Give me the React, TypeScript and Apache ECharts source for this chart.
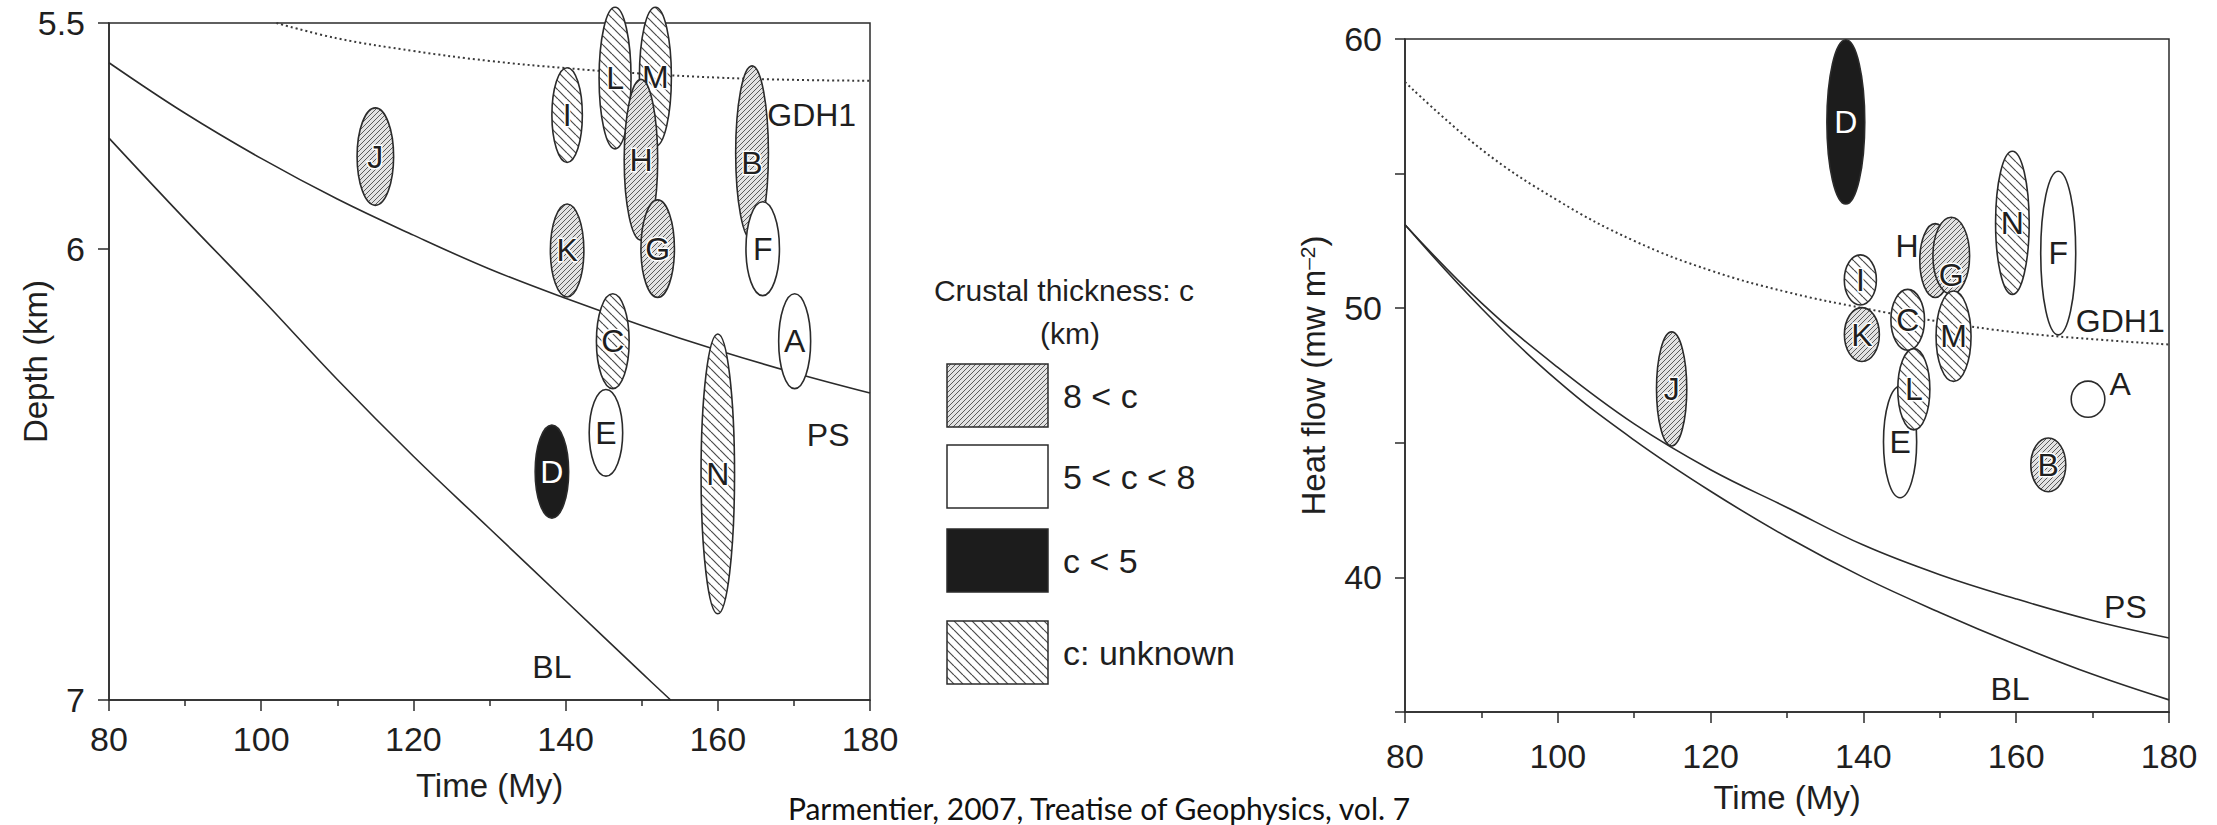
import React, { useEffect, useRef } from "react";
import * as echarts from "echarts";

// ---------- Depth panel (left): ellipse centres, half-extents and crust class ----------
const depthSites = ["J", "I", "K", "L", "M", "H", "G", "B", "F", "C", "A", "E", "D", "N"];
const depthAge = [115.0, 140.2, 140.2, 146.5, 151.8, 149.9, 152.1, 164.5, 165.9, 146.2, 170.1, 145.3, 138.2, 160.0];
const depthValue = [5.796, 5.704, 6.004, 5.622, 5.619, 5.803, 6.0, 5.788, 6.0, 6.205, 6.205, 6.408, 6.494, 6.499];
const depthAgeErr = [2.4, 2.0, 2.2, 2.1, 2.1, 2.2, 2.2, 2.15, 2.2, 2.15, 2.1, 2.2, 2.2, 2.2];
const depthErr = [0.108, 0.105, 0.103, 0.157, 0.154, 0.178, 0.108, 0.193, 0.104, 0.105, 0.105, 0.096, 0.103, 0.31];
const depthCrust = ["thick", "unknown", "thick", "unknown", "unknown", "thick", "thick", "thick", "mid", "unknown", "mid", "mid", "thin", "unknown"];

// ---------- Heat-flow panel (right) ----------
const heatSites = ["D", "N", "F", "I", "K", "C", "H", "G", "M", "E", "L", "A", "J", "B"];
const heatAge = [137.7, 159.5, 165.5, 139.6, 139.8, 145.8, 149.4, 151.5, 151.8, 144.8, 146.6, 169.4, 114.9, 164.2];
const heatValue = [56.92, 53.17, 52.05, 51.05, 49.02, 49.57, 51.77, 51.95, 48.96, 45.03, 46.99, 46.62, 47.0, 44.18];
const heatAgeErr = [2.48, 2.2, 2.29, 2.1, 2.29, 2.2, 2.02, 2.4, 2.29, 2.17, 2.1, 2.2, 1.98, 2.29];
const heatErr = [3.05, 2.66, 3.04, 0.93, 1.0, 1.13, 1.37, 1.43, 1.68, 2.07, 1.51, 0.67, 2.12, 1.0];
const heatCrust = ["thin", "unknown", "mid", "unknown", "thick", "unknown", "thick", "thick", "unknown", "mid", "unknown", "mid", "thick", "thick"];
// letters written away from their ellipse centre
const heatLetterAt: Record<string, [number, number]> = { H: [145.7, 52.3], G: [151.5, 51.25], A: [173.6, 47.2] };
const depthLetterAt: Record<string, [number, number]> = { B: [164.5, 5.81] };

// ---------- Cooling models ----------
const modelAge = [80, 90, 100, 110, 120, 130, 140, 150, 160, 170, 180];
const depthPS = [5.588, 5.7, 5.8, 5.89, 5.97, 6.045, 6.11, 6.17, 6.225, 6.275, 6.32];
const depthBLAge = [80, 90, 100, 110, 120, 130, 140, 150, 153.8];
const depthBL = [5.755, 5.935, 6.11, 6.29, 6.46, 6.62, 6.78, 6.94, 7.0];
const depthGDHAge = [102, 110, 120, 130, 140, 150, 160, 170, 180];
const depthGDH = [5.5, 5.534, 5.562, 5.584, 5.6, 5.612, 5.621, 5.626, 5.628];
const heatGDH = [58.4, 55.9, 54.0, 52.5, 51.4, 50.6, 50.0, 49.5, 49.1, 48.85, 48.65];
const heatPS = [53.1, 50.2, 47.8, 45.7, 44.0, 42.6, 41.2, 40.1, 39.2, 38.4, 37.75];
const heatBL = [53.1, 50.0, 47.3, 45.1, 43.2, 41.5, 40.0, 38.7, 37.5, 36.4, 35.45];

// curve captions
const depthCurveNames = ["GDH1", "PS", "BL"];
const depthCurveAge = [166.5, 174.5, 138.2];
const depthCurveValue = [5.704, 6.413, 6.926];
const heatCurveNames = ["GDH1", "PS", "BL"];
const heatCurveAge = [167.8, 174.3, 159.2];
const heatCurveValue = [49.54, 38.9, 35.85];

// legend
const legendTitle = ["Crustal thickness: c", "(km)"];
const legendClasses = ["thick", "mid", "thin", "unknown"];
const legendLabels = ["8 < c", "5 < c < 8", "c < 5", "c: unknown"];

const caption = "Parmentier, 2007, Treatise of Geophysics, vol. 7";

const FONT = '"Liberation Sans", Arial, Helvetica, sans-serif';
const INK = "#1f1f1f";
const LINE = "#2b2b2b";

function hatchFill(dir: number, s: number, bg: string, ink: string, w: number) {
  const seg = [-s, 0, s]
    .map((k) =>
      dir > 0
        ? `<line x1="${k}" y1="${s}" x2="${k + s}" y2="0"/>`
        : `<line x1="${k}" y1="0" x2="${k + s}" y2="${s}"/>`
    )
    .join("");
  const svg =
    `<svg xmlns="http://www.w3.org/2000/svg" width="${s}" height="${s}" viewBox="0 0 ${s} ${s}">` +
    `<rect width="${s}" height="${s}" fill="${bg}"/>` +
    `<g stroke="${ink}" stroke-width="${w}">${seg}</g></svg>`;
  return {
    image: "data:image/svg+xml;charset=utf-8," + encodeURIComponent(svg),
    repeat: "repeat",
    imageWidth: s,
    imageHeight: s,
  };
}

const FILLS: Record<string, any> = {
  thick: hatchFill(1, 5, "#e2e2e2", "#5a5a5a", 1),
  unknown: hatchFill(-1, 9, "#ffffff", "#4a4a4a", 1.2),
  mid: "#ffffff",
  thin: "#1c1c1c",
};

function ellipseSeries(
  idx: number,
  sites: string[],
  ages: number[],
  vals: number[],
  ageErr: number[],
  valErr: number[],
  crust: string[],
  letterAt: Record<string, [number, number]>
) {
  return {
    type: "custom",
    xAxisIndex: idx,
    yAxisIndex: idx,
    clip: false,
    silent: true,
    z: 5,
    data: sites.map((_, i) => [ages[i], vals[i], ageErr[i], valErr[i], i]),
    renderItem: (_p: any, api: any) => {
      const i = api.value(4);
      const c = api.coord([api.value(0), api.value(1)]);
      const sz = api.size([api.value(2), api.value(3)]);
      const at = letterAt[sites[i]];
      const lp = at ? api.coord(at) : c;
      const dark = crust[i] === "thin";
      const textStyle = {
        text: sites[i],
        font: `32px ${FONT}`,
        align: "center",
        verticalAlign: "middle",
        textAlign: "center",
        textVerticalAlign: "middle",
      };
      const children: any[] = [
        {
          type: "ellipse",
          shape: { cx: c[0], cy: c[1], rx: sz[0], ry: sz[1] },
          style: { fill: FILLS[crust[i]], stroke: LINE, lineWidth: 1.6 },
        },
      ];
      if (!dark) {
        children.push({
          type: "text",
          x: lp[0],
          y: lp[1],
          style: { ...textStyle, fill: "#ffffff", stroke: "#ffffff", lineWidth: 3 },
        });
      }
      children.push({
        type: "text",
        x: lp[0],
        y: lp[1],
        style: { ...textStyle, fill: dark ? "#ffffff" : INK },
      });
      return { type: "group", children };
    },
  };
}

function captionSeries(idx: number, names: string[], ages: number[], vals: number[]) {
  return {
    type: "custom",
    xAxisIndex: idx,
    yAxisIndex: idx,
    clip: false,
    silent: true,
    z: 6,
    data: names.map((_, i) => [ages[i], vals[i], i]),
    renderItem: (_p: any, api: any) => {
      const i = api.value(2);
      const c = api.coord([api.value(0), api.value(1)]);
      const al = names[i] === "GDH1" ? "left" : "center";
      return {
        type: "text",
        x: c[0],
        y: c[1],
        style: {
          text: names[i],
          font: `32px ${FONT}`,
          fill: INK,
          align: al,
          textAlign: al,
          verticalAlign: "middle",
          textVerticalAlign: "middle",
        },
      };
    },
  };
}

function curve(idx: number, xs: number[], ys: number[], dotted: boolean) {
  return {
    type: "line",
    xAxisIndex: idx,
    yAxisIndex: idx,
    data: xs.map((x, i) => [x, ys[i]]),
    smooth: 0.4,
    showSymbol: false,
    silent: true,
    z: 3,
    lineStyle: dotted
      ? { color: "#3a3a3a", width: 2, type: [2, 3] }
      : { color: LINE, width: 1.6 },
  };
}

const axisLine = { show: true, onZero: false, lineStyle: { color: LINE, width: 1.5 } };
const tickStyle = { color: LINE, width: 1.5 };

function timeAxis(idx: number, labelMargin: number) {
  return {
    type: "value",
    gridIndex: idx,
    min: 80,
    max: 180,
    interval: 20,
    name: "Time (My)",
    nameLocation: "middle",
    nameGap: 69,
    nameMoveOverlap: false,
    nameTextStyle: { fontFamily: FONT, fontSize: 33, color: INK },
    axisLine,
    axisTick: { show: true, length: 11, lineStyle: tickStyle },
    minorTick: { show: true, splitNumber: 2, length: 6, lineStyle: tickStyle },
    axisLabel: { margin: labelMargin, fontFamily: FONT, fontSize: 34, color: INK },
    splitLine: { show: false },
    minorSplitLine: { show: false },
  };
}

function buildOption() {
  const legendGraphics: any[] = [
    {
      type: "text",
      x: 1064,
      y: 290,
      style: { text: legendTitle[0], font: `30px ${FONT}`, fill: INK, align: "center", verticalAlign: "middle", textAlign: "center", textVerticalAlign: "middle" },
    },
    {
      type: "text",
      x: 1070,
      y: 333,
      style: { text: legendTitle[1], font: `30px ${FONT}`, fill: INK, align: "center", verticalAlign: "middle", textAlign: "center", textVerticalAlign: "middle" },
    },
  ];
  const boxTops = [364, 445, 529, 621];
  legendClasses.forEach((cls, i) => {
    legendGraphics.push({
      type: "rect",
      shape: { x: 947, y: boxTops[i], width: 101, height: 63 },
      style: { fill: FILLS[cls], stroke: LINE, lineWidth: 1.5 },
    });
    legendGraphics.push({
      type: "text",
      x: 1063,
      y: boxTops[i] + 32,
      style: { text: legendLabels[i], font: `34px ${FONT}`, fill: INK, align: "left", verticalAlign: "middle", textAlign: "left", textVerticalAlign: "middle" },
    });
  });
  legendGraphics.push({
    type: "text",
    x: 1099,
    y: 823,
    style: { text: caption, font: `30px Lato, "Open Sans", sans-serif`, fill: "#111", align: "center", verticalAlign: "bottom", textAlign: "center", textVerticalAlign: "bottom" },
  });

  return {
    animation: false,
    backgroundColor: "#ffffff",
    grid: [
      { left: 109, top: 23, width: 761, height: 677, show: true, borderColor: LINE, borderWidth: 1.5, backgroundColor: "transparent" },
      { left: 1405, top: 39, width: 764, height: 673, show: true, borderColor: LINE, borderWidth: 1.5, backgroundColor: "transparent" },
    ],
    xAxis: [timeAxis(0, 22), timeAxis(1, 27)],
    yAxis: [
      {
        type: "value",
        gridIndex: 0,
        min: 5.5,
        max: 7,
        interval: 0.5,
        inverse: true,
        name: "Depth (km)",
        nameLocation: "middle",
        nameGap: 57,
        nameMoveOverlap: false,
        nameTextStyle: { fontFamily: FONT, fontSize: 33, color: INK },
        axisLine,
        axisTick: { show: true, length: 11, lineStyle: tickStyle, customValues: [5.5, 6, 7] },
        axisLabel: { margin: 24, fontFamily: FONT, fontSize: 34, color: INK, customValues: [5.5, 6, 7] },
        splitLine: { show: false },
      },
      {
        type: "value",
        gridIndex: 1,
        min: 35,
        max: 60,
        interval: 5,
        name: "Heat flow (mw m{sup|–2})",
        nameLocation: "middle",
        nameGap: 75,
        nameMoveOverlap: false,
        nameTextStyle: {
          fontFamily: FONT,
          fontSize: 33,
          color: INK,
          rich: { sup: { fontFamily: FONT, fontSize: 21, color: INK, verticalAlign: "top", lineHeight: 33 } },
        },
        axisLine,
        axisTick: { show: true, length: 10, lineStyle: tickStyle },
        axisLabel: {
          margin: 23,
          fontFamily: FONT,
          fontSize: 34,
          color: INK,
          formatter: (v: number) => (v % 10 === 0 ? String(v) : ""),
        },
        splitLine: { show: false },
      },
    ],
    series: [
      curve(0, depthGDHAge, depthGDH, true),
      curve(0, modelAge, depthPS, false),
      curve(0, depthBLAge, depthBL, false),
      curve(1, modelAge, heatGDH, true),
      curve(1, modelAge, heatPS, false),
      curve(1, modelAge, heatBL, false),
      ellipseSeries(0, depthSites, depthAge, depthValue, depthAgeErr, depthErr, depthCrust, depthLetterAt),
      ellipseSeries(1, heatSites, heatAge, heatValue, heatAgeErr, heatErr, heatCrust, heatLetterAt),
      captionSeries(0, depthCurveNames, depthCurveAge, depthCurveValue),
      captionSeries(1, heatCurveNames, heatCurveAge, heatCurveValue),
    ],
    graphic: legendGraphics,
  };
}

export default function App() {
  const ref = useRef<HTMLDivElement>(null);
  useEffect(() => {
    document.body.style.margin = "0";
    if (!ref.current) return;
    const chart = echarts.init(ref.current, null, { renderer: "svg" });
    chart.setOption(buildOption() as any);
    return () => chart.dispose();
  }, []);
  return <div ref={ref} style={{ width: 2217, height: 825 }} />;
}
